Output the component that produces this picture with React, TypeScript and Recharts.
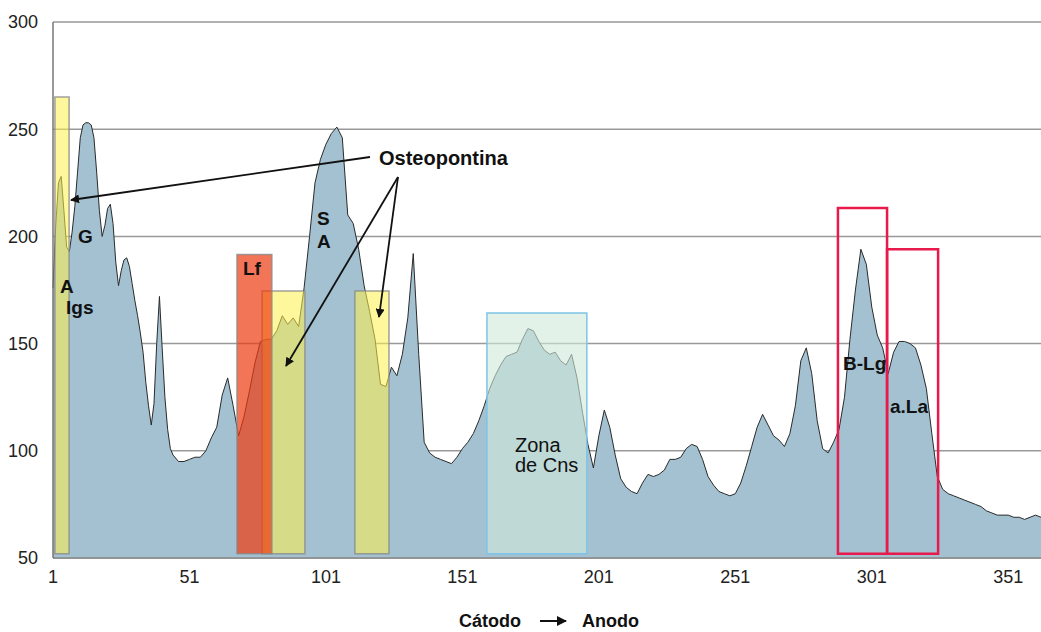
import { Area, AreaChart, CartesianGrid, ReferenceArea, XAxis, YAxis } from "recharts";

// densidad óptica, posiciones 1..44 (una por unidad)
const inicio = [
  176, 205, 225, 228, 212, 195, 193, 202, 214, 230,
  246, 252, 253, 253, 252, 246, 230, 212, 200, 205,
  213, 215, 206, 188, 177, 184, 189, 190, 186, 178,
  170, 163, 155, 146, 132, 121, 112, 122, 150, 172,
  148, 125, 110, 101,
];

// posiciones 45..363 (cada 2)
const resto = [
  98, 95, 95, 96, 97, 97, 100, 106, 111, 126,
  134, 121, 107, 116, 128, 141, 151, 152, 152, 156,
  163, 159, 162, 158, 176, 200, 225, 236, 243, 248,
  251, 246, 210, 206, 194, 177, 165, 152, 131, 130,
  139, 135, 145, 162, 192, 145, 104, 99, 97, 96,
  95, 94, 97, 101, 104, 108, 114, 121, 129, 135,
  140, 144, 145, 146, 152, 157, 156, 151, 147, 145,
  146, 142, 140, 145, 134, 118, 103, 92, 107, 119,
  111, 98, 87, 83, 81, 80, 85, 89, 88, 89,
  91, 96, 96, 97, 101, 103, 102, 96, 88, 84,
  81, 80, 79, 80, 85, 93, 102, 111, 117, 112,
  107, 105, 102, 108, 121, 142, 148, 136, 114, 101,
  99, 104, 110, 125, 152, 175, 194, 187, 167, 154,
  148, 136, 146, 151, 151, 150, 148, 140, 129, 108,
  88, 82, 80, 79, 78, 77, 76, 75, 74, 72,
  71, 70, 70, 70, 69, 69, 68, 69, 70, 69,
];

const xTicks = [1, 51, 101, 151, 201, 251, 301, 351];
const yTicks = [50, 100, 150, 200, 250, 300];

// [x1, x2, techo]
const amarillas = [
  [1.7, 6.9, 265],
  [77.6, 93.3, 174.5],
  [111.6, 124.1, 174.5],
];
const lf = [68.4, 81.2, 191.5];
const cns = [160, 196.6, 164.3];
const rosas = [
  [288.6, 306.6, 213.3],
  [306.6, 325.3, 194],
];

const data = [
  ...inicio.map((v, i) => ({ pos: i + 1, val: v })),
  ...resto.map((v, i) => ({ pos: 45 + i * 2, val: v })),
];

const font = "Arial, 'Liberation Sans', sans-serif";
const tickStyle = { fontSize: 18, fill: "#222", fontFamily: font };

export default function App() {
  return (
    <div style={{ position: "absolute", left: 0, top: 0, width: 1041, height: 632, background: "#fff", overflow: "hidden" }}>
      <AreaChart width={1041} height={632} data={data} margin={{ top: 22, right: 0, bottom: 44, left: 0 }}>
        <CartesianGrid vertical={false} stroke="#999" strokeWidth={1.5} />
        <XAxis
          dataKey="pos"
          type="number"
          domain={[1, 363]}
          ticks={xTicks}
          height={30}
          tick={tickStyle}
          tickLine={false}
          tickMargin={6}
          axisLine={{ stroke: "#888", strokeWidth: 1.5 }}
        />
        <YAxis
          domain={[50, 300]}
          ticks={yTicks}
          width={53}
          tick={tickStyle}
          tickLine={false}
          tickMargin={9}
          axisLine={{ stroke: "#777", strokeWidth: 1.5 }}
        />
        <Area
          type="linear"
          dataKey="val"
          stroke="#2a2a2a"
          strokeWidth={1}
          fill="#a3c1d1"
          fillOpacity={1}
          isAnimationActive={false}
        />
        {amarillas.map(([a, b, t], i) => (
          <ReferenceArea key={"am" + i} x1={a} x2={b} y1={52} y2={t} fill="#fff04a" fillOpacity={0.55} stroke="#8a8a8a" strokeWidth={1.5} strokeOpacity={0.8} />
        ))}
        <ReferenceArea x1={lf[0]} x2={lf[1]} y1={52} y2={lf[2]} fill="#ee3a10" fillOpacity={0.7} stroke="#8a8a8a" strokeWidth={1.5} strokeOpacity={0.8} />
        <ReferenceArea x1={cns[0]} x2={cns[1]} y1={52} y2={cns[2]} fill="#d0ead8" fillOpacity={0.6} stroke="#7ec4e8" strokeWidth={1.5} />
        {rosas.map(([a, b, t], i) => (
          <ReferenceArea key={"ro" + i} x1={a} x2={b} y1={52} y2={t} fill="none" fillOpacity={0} stroke="#e8194b" strokeWidth={2.5} />
        ))}
      </AreaChart>

      <svg width={1041} height={632} style={{ position: "absolute", left: 0, top: 0, pointerEvents: "none" }}>
        <defs>
          <marker id="flecha" viewBox="0 0 10 10" refX="9" refY="5" markerWidth="5" markerHeight="5" orient="auto">
            <path d="M0,0 L10,5 L0,10 z" fill="#111" />
          </marker>
        </defs>
        <g stroke="#111" strokeWidth={1.8} fill="none">
          <line x1={370} y1={157} x2={71} y2={200} markerEnd="url(#flecha)" />
          <line x1={398} y1={177} x2={286} y2={366} markerEnd="url(#flecha)" />
          <line x1={398} y1={177} x2={379} y2={317} markerEnd="url(#flecha)" />
        </g>
        <g fontFamily={font} fontWeight="bold" fontSize={19} fill="#111">
          <text x={379} y={165} fontSize={20}>Osteopontina</text>
          <text x={60} y={293}>A</text>
          <text x={66} y={314}>Igs</text>
          <text x={78} y={243}>G</text>
          <text x={243} y={275}>Lf</text>
          <text x={317} y={225}>S</text>
          <text x={317} y={248}>A</text>
          <text x={843} y={370}>B-Lg</text>
          <text x={890} y={413}>a.La</text>
        </g>
        <g fontFamily={font} fontSize={20} fill="#111">
          <text x={515} y={452}>Zona</text>
          <text x={515} y={472}>de Cns</text>
        </g>
        <g fontFamily={font} fontWeight="bold" fontSize={18} fill="#111">
          <text x={459} y={627}>Cátodo</text>
          <line x1={540} y1={621} x2={566} y2={621} stroke="#111" strokeWidth={2} markerEnd="url(#flecha)" />
          <text x={582} y={627}>Anodo</text>
        </g>
      </svg>
    </div>
  );
}
